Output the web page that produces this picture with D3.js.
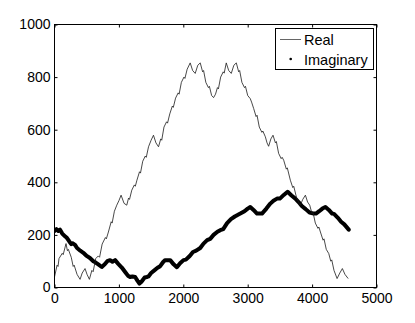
<!DOCTYPE html>
<html>
<head>
<meta charset="utf-8">
<script src="https://cdn.jsdelivr.net/npm/d3@7"></script>
<style>
  html, body { margin: 0; padding: 0; background: #fff; }
  #chart { width: 415px; height: 323px; }
  text { font-family: "Liberation Sans", Arial, sans-serif; }
</style>
</head>
<body>
<div id="chart"></div>
<script>
// tick labels
const xTicks = [0, 1000, 2000, 3000, 4000, 5000];
const yTicks = [0, 200, 400, 600, 800, 1000];

// "Real" series
const realX = [0, 40, 55, 70, 120, 135, 179, 200, 215, 260, 290, 305, 350, 397, 430, 474, 505, 542,
  580, 600, 640, 680, 700, 740, 790, 805, 837, 880, 895, 930, 967, 1000, 1034, 1080, 1122,
  1150, 1165, 1200, 1240, 1255, 1280, 1320, 1335, 1370, 1410, 1425, 1460, 1500, 1537, 1575, 1615,
  1650, 1665, 1700, 1740, 1755, 1790, 1830, 1845, 1880, 1920, 1935, 1970, 2010, 2025, 2060, 2107,
  2145, 2185, 2225, 2263, 2300, 2315, 2350, 2390, 2405, 2440, 2470, 2500, 2530, 2545, 2580, 2620,
  2635, 2667, 2705, 2745, 2785, 2823, 2860, 2875, 2910, 2950, 2965, 3000, 3040, 3060, 3092, 3130,
  3145, 3180, 3220, 3235, 3274, 3300, 3325, 3360, 3393, 3430, 3445, 3480, 3520, 3535, 3559, 3600,
  3615, 3662, 3700, 3715, 3760, 3800, 3818, 3855, 3896, 3930, 3963, 4000, 4015, 4050, 4090, 4105,
  4129, 4170, 4185, 4220, 4259, 4290, 4305, 4340, 4388, 4430, 4470, 4510, 4560];
const realY = [40, 85, 80, 110, 130, 125, 167, 140, 145, 115, 80, 85, 50, 31, 55, 72, 50, 31,
  65, 60, 110, 120, 115, 165, 190, 185, 211, 250, 245, 290, 313, 330, 351, 320, 313,
  340, 335, 370, 390, 385, 408, 440, 435, 480, 500, 495, 535, 560, 579, 550, 535,
  565, 560, 610, 630, 625, 660, 690, 685, 720, 740, 735, 780, 800, 795, 830, 854,
  825, 814, 845, 854, 820, 825, 780, 760, 765, 730, 722, 735, 760, 755, 800, 820,
  815, 854, 825, 814, 845, 854, 820, 825, 780, 760, 765, 730, 718, 705, 681, 650,
  655, 610, 590, 595, 573, 550, 537, 565, 579, 550, 555, 510, 490, 495, 484, 450,
  455, 408, 380, 385, 340, 320, 313, 335, 351, 325, 313, 280, 285, 245, 225, 230,
  211, 180, 185, 145, 129, 100, 105, 65, 34, 55, 72, 50, 34];

// "Imaginary" series
const imagX = [0, 30, 60, 86, 120, 160, 189, 230, 260, 280, 319, 350, 400, 448, 500, 550, 603, 640,
  680, 734, 780, 820, 863, 900, 941, 990, 1045, 1100, 1140, 1174, 1210, 1252, 1290, 1319, 1350,
  1400, 1434, 1459, 1500, 1550, 1600, 1641, 1690, 1719, 1745, 1796, 1850, 1900, 1950, 2003, 2040,
  2100, 2150, 2200, 2263, 2314, 2370, 2418, 2470, 2530, 2574, 2620, 2680, 2740, 2800, 2885, 2950,
  3000, 3040, 3090, 3145, 3170, 3222, 3290, 3351, 3400, 3455, 3500, 3560, 3620, 3680, 3740, 3790,
  3840, 3900, 3960, 4025, 4060, 4110, 4160, 4207, 4260, 4311, 4340, 4400, 4450, 4500, 4569];
const imagY = [215, 222, 215, 220, 205, 195, 190, 175, 165, 168, 162, 150, 140, 132, 120, 112, 100, 95,
  88, 78, 88, 100, 104, 98, 104, 90, 76, 58, 45, 40, 42, 40, 25, 15, 22,
  38, 40, 42, 55, 65, 75, 81, 98, 104, 104, 104, 88, 77, 92, 104, 106,
  120, 135, 140, 150, 167, 180, 185, 200, 212, 218, 222, 245, 260, 270, 281, 290,
  300, 306, 295, 281, 281, 281, 300, 319, 330, 338, 338, 352, 364, 350, 338, 325,
  310, 298, 285, 281, 281, 290, 300, 306, 295, 281, 280, 265, 250, 240, 220];

const seriesNames = ['Real', 'Imaginary'];

const W = 415, H = 323;
const plotL = 54.5, plotR = 376.5, plotT = 24.5, plotB = 287.5;

const svg = d3.select('#chart').append('svg')
  .attr('width', W)
  .attr('height', H);

const x = d3.scaleLinear().domain([0, 5000]).range([plotL, plotR]);
const y = d3.scaleLinear().domain([0, 1000]).range([plotB, plotT]);

const real = realX.map((v, i) => [v, realY[i]]);
const imag = imagX.map((v, i) => [v, imagY[i]]);

const line = d3.line()
  .x(d => x(d[0]))
  .y(d => y(d[1]));

// clip to plot box
svg.append('clipPath').attr('id', 'clip')
  .append('rect')
  .attr('x', plotL).attr('y', plotT)
  .attr('width', plotR - plotL).attr('height', plotB - plotT);

const plot = svg.append('g').attr('clip-path', 'url(#clip)');

plot.append('path')
  .datum(imag)
  .attr('fill', 'none')
  .attr('stroke', '#000')
  .attr('stroke-width', 4)
  .attr('stroke-linejoin', 'round')
  .attr('stroke-linecap', 'round')
  .attr('d', line);

plot.append('path')
  .datum(real)
  .attr('fill', 'none')
  .attr('stroke', '#1a1a1a')
  .attr('stroke-width', 0.8)
  .attr('d', line);

// axes (ticks inward on all four sides)
const styleAxis = g => {
  g.select('.domain').remove();
  g.selectAll('.tick line').attr('stroke', '#000');
  g.selectAll('.tick text')
    .attr('fill', '#000')
    .attr('font-size', '14px')
    .attr('font-family', '"Liberation Sans", Arial, sans-serif');
};

const fmt = d3.format('d');

svg.append('g')
  .attr('transform', `translate(0,${plotB})`)
  .call(d3.axisBottom(x).tickValues(xTicks).tickFormat(fmt).tickSize(-3).tickPadding(6))
  .call(styleAxis);

svg.append('g')
  .attr('transform', `translate(0,${plotT})`)
  .call(d3.axisTop(x).tickValues(xTicks).tickSize(-3).tickFormat(''))
  .call(styleAxis);

svg.append('g')
  .attr('transform', `translate(${plotL},0)`)
  .call(d3.axisLeft(y).tickValues(yTicks).tickFormat(fmt).tickSize(-3).tickPadding(4))
  .call(styleAxis);

svg.append('g')
  .attr('transform', `translate(${plotR},0)`)
  .call(d3.axisRight(y).tickValues(yTicks).tickSize(-3).tickFormat(''))
  .call(styleAxis);

svg.append('rect')
  .attr('x', plotL).attr('y', plotT)
  .attr('width', plotR - plotL).attr('height', plotB - plotT)
  .attr('fill', 'none')
  .attr('stroke', '#000')
  .attr('stroke-width', 1);

// legend
const lg = svg.append('g');
lg.append('rect')
  .attr('x', 275.5).attr('y', 28.5)
  .attr('width', 98).attr('height', 41)
  .attr('fill', '#fff')
  .attr('stroke', '#000');

lg.append('line')
  .attr('x1', 280).attr('x2', 301)
  .attr('y1', 39.5).attr('y2', 39.5)
  .attr('stroke', '#666')
  .attr('stroke-width', 1);

lg.append('circle')
  .attr('cx', 290.7).attr('cy', 59)
  .attr('r', 1.3)
  .attr('fill', '#000');

lg.selectAll('text.lbl')
  .data(seriesNames)
  .enter().append('text')
  .attr('class', 'lbl')
  .attr('x', 304)
  .attr('y', (d, i) => i === 0 ? 45 : 64.5)
  .attr('font-size', '14.5px')
  .attr('fill', '#000')
  .text(d => d);
</script>
</body>
</html>
